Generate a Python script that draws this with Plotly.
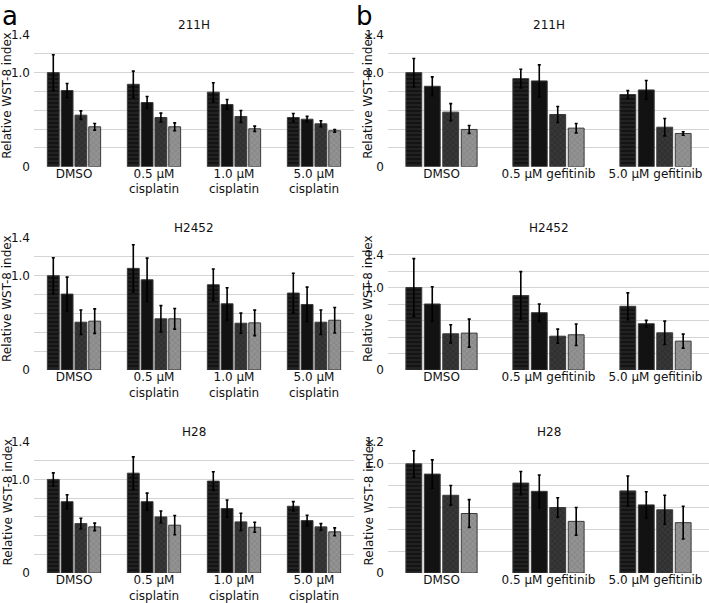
import plotly.graph_objects as go

W, H = 709, 603

cis_groups = ["DMSO", "0.5 µM<br>cisplatin", "1.0 µM<br>cisplatin", "5.0 µM<br>cisplatin"]
gef_groups = ["DMSO", "0.5 µM gefitinib", "5.0 µM gefitinib"]

# ---- panel a : 211H ----
a211_s1 = [1.00, 0.876, 0.792, 0.523]
a211_s2 = [0.81, 0.682, 0.661, 0.505]
a211_s3 = [0.548, 0.523, 0.534, 0.456]
a211_s4 = [0.424, 0.424, 0.403, 0.382]
a211_e1 = [0.19, 0.14, 0.10, 0.042]
a211_e2 = [0.075, 0.064, 0.053, 0.03]
a211_e3 = [0.045, 0.046, 0.063, 0.032]
a211_e4 = [0.035, 0.042, 0.028, 0.014]

# ---- panel a : H2452 ----
a2452_s1 = [1.0, 1.078, 0.904, 0.816]
a2452_s2 = [0.805, 0.957, 0.702, 0.695]
a2452_s3 = [0.507, 0.543, 0.496, 0.507]
a2452_s4 = [0.518, 0.543, 0.5, 0.528]
a2452_e1 = [0.19, 0.25, 0.167, 0.21]
a2452_e2 = [0.18, 0.23, 0.17, 0.184]
a2452_e3 = [0.13, 0.14, 0.107, 0.13]
a2452_e4 = [0.13, 0.11, 0.135, 0.135]

# ---- panel a : H28 ----
a28_s1 = [1.0, 1.067, 0.982, 0.713]
a28_s2 = [0.762, 0.762, 0.688, 0.56]
a28_s3 = [0.528, 0.599, 0.546, 0.493]
a28_s4 = [0.493, 0.511, 0.489, 0.44]
a28_e1 = [0.07, 0.174, 0.1, 0.05]
a28_e2 = [0.075, 0.092, 0.092, 0.057]
a28_e3 = [0.057, 0.064, 0.092, 0.035]
a28_e4 = [0.04, 0.103, 0.053, 0.042]

# ---- panel b : 211H ----
b211_s1 = [1.0, 0.936, 0.767]
b211_s2 = [0.855, 0.912, 0.816]
b211_s3 = [0.58, 0.555, 0.42]
b211_s4 = [0.396, 0.41, 0.353]
b211_e1 = [0.15, 0.10, 0.042]
b211_e2 = [0.10, 0.17, 0.10]
b211_e3 = [0.09, 0.085, 0.092]
b211_e4 = [0.042, 0.05, 0.018]

# ---- panel b : H2452 ----
b2452_s1 = [1.0, 0.902, 0.772]
b2452_s2 = [0.80, 0.695, 0.561]
b2452_s3 = [0.439, 0.41, 0.451]
b2452_s4 = [0.447, 0.427, 0.35]
b2452_e1 = [0.35, 0.29, 0.163]
b2452_e2 = [0.21, 0.105, 0.04]
b2452_e3 = [0.11, 0.085, 0.142]
b2452_e4 = [0.17, 0.13, 0.085]

# ---- panel b : H28 ----
b28_s1 = [1.0, 0.824, 0.752]
b28_s2 = [0.906, 0.748, 0.624]
b28_s3 = [0.712, 0.6, 0.579]
b28_s4 = [0.545, 0.473, 0.461]
b28_e1 = [0.12, 0.106, 0.136]
b28_e2 = [0.13, 0.15, 0.12]
b28_e3 = [0.09, 0.09, 0.133]
b28_e4 = [0.127, 0.127, 0.15]

titles = ["211H", "211H", "H2452", "H2452", "H28", "H28"]
ytitle = "Relative WST-8 index"

tick14_vals = [0, 0.2, 0.4, 0.6, 0.8, 1.0, 1.2, 1.4]
tick14_text = ["0", "", "", "", "", "1.0", "", "1.4"]
tick16_vals = [0, 0.2, 0.4, 0.6, 0.8, 1.0, 1.2, 1.4, 1.6]
tick16_text = ["0", "", "", "", "", "1.0", "", "1.4", ""]
tick12_vals = [0, 0.2, 0.4, 0.6, 0.8, 1.0, 1.2]
tick12_text = ["0", "", "", "", "", "1.0", "1.2"]

# styles of the 4 bar kinds
styles = [
    dict(color="#141414", pattern=dict(shape="-", fgcolor="#3c3c3c", size=4, solidity=0.35)),
    dict(color="#121212"),
    dict(color="#303030", pattern=dict(shape="x", fgcolor="#4a4a4a", size=4, solidity=0.35)),
    dict(color="#8a8a8a", pattern=dict(shape="x", fgcolor="#b0b0b0", size=4, solidity=0.3)),
]

panels = [
    (cis_groups, [a211_s1, a211_s2, a211_s3, a211_s4], [a211_e1, a211_e2, a211_e3, a211_e4]),
    (gef_groups, [b211_s1, b211_s2, b211_s3, b211_s4], [b211_e1, b211_e2, b211_e3, b211_e4]),
    (cis_groups, [a2452_s1, a2452_s2, a2452_s3, a2452_s4], [a2452_e1, a2452_e2, a2452_e3, a2452_e4]),
    (gef_groups, [b2452_s1, b2452_s2, b2452_s3, b2452_s4], [b2452_e1, b2452_e2, b2452_e3, b2452_e4]),
    (cis_groups, [a28_s1, a28_s2, a28_s3, a28_s4], [a28_e1, a28_e2, a28_e3, a28_e4]),
    (gef_groups, [b28_s1, b28_s2, b28_s3, b28_s4], [b28_e1, b28_e2, b28_e3, b28_e4]),
]

yconf = [
    (1.4, tick14_vals, tick14_text),
    (1.4, tick14_vals, tick14_text),
    (1.4, tick14_vals, tick14_text),
    (1.6, tick16_vals, tick16_text),
    (1.4, tick14_vals, tick14_text),
    (1.2, tick12_vals, tick12_text),
]

# pixel layout
xdom_px = [(34, 354), (388, 709)]
ydom_px = [(35, 166.7), (238, 370), (442, 573)]

fig = go.Figure()
font = "DejaVu Sans"

for i, (cats, series, errs) in enumerate(panels):
    k = i + 1
    xa = "x" if k == 1 else f"x{k}"
    ya = "y" if k == 1 else f"y{k}"
    for j in range(4):
        fig.add_trace(go.Bar(
            x=cats, y=series[j], xaxis=xa, yaxis=ya,
            marker=dict(line=dict(color="#3a3a3a", width=1), **styles[j]),
            error_y=dict(type="data", array=errs[j], visible=True,
                         color="#000000", thickness=1.6, width=1.5),
            showlegend=False, offsetgroup=str(j),
        ))

layout = dict(
    width=W, height=H, margin=dict(l=0, r=0, t=0, b=0, autoexpand=False),
    paper_bgcolor="white", plot_bgcolor="white",
    barmode="group", bargap=0.31, bargroupgap=0.14,
    font=dict(family=font, size=12, color="#111111"),
)
annotations = []
for i in range(6):
    k = i + 1
    row, col = i // 2, i % 2
    x0, x1 = xdom_px[col]
    yt, yb = ydom_px[row]
    ymax, tv, tt = yconf[i]
    xkey = "xaxis" if k == 1 else f"xaxis{k}"
    ykey = "yaxis" if k == 1 else f"yaxis{k}"
    layout[xkey] = dict(domain=[x0 / W, x1 / W], anchor=("y" if k == 1 else f"y{k}"),
                        showgrid=False, showline=False, ticks="", zeroline=False,
                        automargin=False,
                        tickfont=dict(size=12, color="#111"), ticklabelstandoff=-2)
    layout[ykey] = dict(domain=[1 - yb / H, 1 - yt / H], anchor=("x" if k == 1 else f"x{k}"),
                        range=[0, ymax], tickvals=tv, ticktext=tt, showgrid=True,
                        gridcolor="#d4d4d4", gridwidth=1, zeroline=False, showline=False,
                        automargin=False,
                        ticks="", tickfont=dict(size=12, color="#111"), ticklabelstandoff=3)
    # subplot title
    annotations.append(dict(text=titles[i], xref="paper", yref="paper",
                            x=(x0 + x1) / 2 / W, y=1 - (yt - 10) / H,
                            xanchor="center", yanchor="middle", showarrow=False,
                            font=dict(size=12, color="#111")))
    # y axis title
    tx = 7 if col == 0 else 368
    annotations.append(dict(text=ytitle, xref="paper", yref="paper",
                            x=tx / W, y=1 - ((yt + yb) / 2 - 5) / H, textangle=-90,
                            xanchor="center", yanchor="middle", showarrow=False,
                            font=dict(size=12, color="#111")))

annotations.append(dict(text="a", xref="paper", yref="paper", x=1 / W, y=1,
                        xanchor="left", yanchor="top", showarrow=False, borderpad=0,
                        font=dict(size=26, color="#000")))
annotations.append(dict(text="b", xref="paper", yref="paper", x=355 / W, y=1,
                        xanchor="left", yanchor="top", showarrow=False, borderpad=0,
                        font=dict(size=26, color="#000")))
layout["annotations"] = annotations

fig.update_layout(**layout)
fig.write_html("out.html", config={"displayModeBar": False},
               post_script="document.body.style.margin='0';document.body.style.overflow='hidden';")
